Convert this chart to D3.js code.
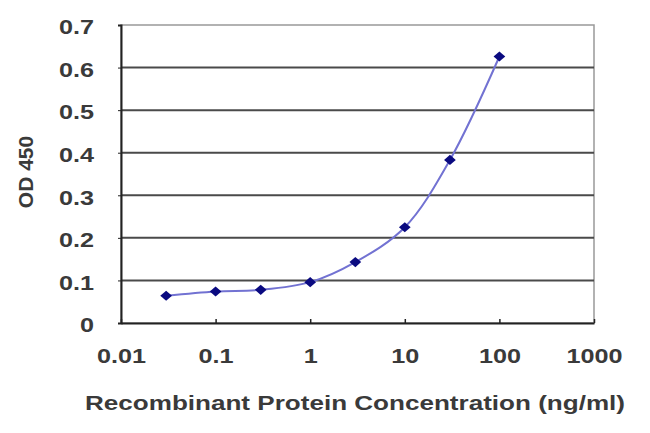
<!DOCTYPE html>
<html><head><meta charset="utf-8">
<script src="https://cdn.jsdelivr.net/npm/d3@7"></script>
<style>body{margin:0;background:#fff}svg{display:block}text{font-family:"Liberation Sans",Arial,sans-serif}</style>
</head><body>
<svg id="c" width="650" height="433"></svg>
<script>
const concentrations = [0.03, 0.1, 0.3, 1, 3, 10, 30, 100];
const odValues = [0.064, 0.074, 0.078, 0.096, 0.143, 0.225, 0.383, 0.626];
const xTicks = [0.01, 0.1, 1, 10, 100, 1000];
const yTicks = [0, 0.1, 0.2, 0.3, 0.4, 0.5, 0.6, 0.7];
const xTitle = "Recombinant Protein Concentration (ng/ml)";
const yTitle = "OD 450";

const svg = d3.select("#c");
const m = {l:121, t:25, r:594, b:323};
const sx = 1.2; // horizontal stretch of the source image
const x = d3.scaleLog().domain([0.01, 1000]).range([m.l, m.r]);
const y = d3.scaleLinear().domain([0, 0.7]).range([m.b, m.t]);

// plot border (top/right light gray)
svg.append("rect").attr("x", m.l).attr("y", m.t).attr("width", m.r-m.l).attr("height", m.b-m.t)
  .attr("fill","none").attr("stroke","#999").attr("stroke-width",1.5);

// gridlines
svg.append("g").selectAll("line").data(yTicks.filter(d=>d>0 && d<0.7)).join("line")
  .attr("x1", m.l).attr("x2", m.r).attr("y1", d=>y(d)).attr("y2", d=>y(d))
  .attr("stroke","#4a4a4a").attr("stroke-width",2);

// y axis
const ya = svg.append("g").attr("transform",`translate(${m.l},0)`)
  .call(d3.axisLeft(y).tickValues(yTicks).tickFormat(d=>d===0?"0":d3.format(".1f")(d)).tickSize(3).tickPadding(28));
ya.select(".domain").attr("stroke","#222").attr("stroke-width",2);
ya.selectAll("line").attr("stroke","#222");
ya.selectAll("text").attr("font-size",21).attr("fill","#3a3a3a").attr("font-weight","bold").attr("dy","0.42em")
  .attr("x",0).attr("transform",`translate(-27,0) scale(${sx},1)`);

// x axis
const xa = svg.append("g").attr("transform",`translate(0,${m.b})`)
  .call(d3.axisBottom(x).tickValues(xTicks).tickFormat(d=>String(d)).tickSizeInner(-4).tickSizeOuter(0).tickPadding(25));
xa.select(".domain").attr("stroke","#222").attr("stroke-width",2);
xa.selectAll("line").attr("stroke","#222").attr("stroke-width",1.5);
xa.selectAll("text").attr("font-size",21).attr("fill","#3a3a3a").attr("font-weight","bold")
  .attr("transform",`scale(${sx},1)`);

// line
const pts = concentrations.map((c,i)=>[c, odValues[i]]);
svg.append("path").datum(pts)
  .attr("d", d3.line().x(d=>x(d[0])).y(d=>y(d[1])).curve(d3.curveCatmullRom.alpha(0.5)))
  .attr("fill","none").attr("stroke","#7272d2").attr("stroke-width",2);

// markers
svg.append("g").selectAll("path").data(pts).join("path")
  .attr("d", d3.symbol().type(d3.symbolDiamond2).size(66))
  .attr("transform", d=>`translate(${x(d[0])},${y(d[1])}) scale(1.15,1)`)
  .attr("fill","#0a0a80");

// titles
svg.append("text").attr("x", 85).attr("y", 410)
  .attr("textLength", 540).attr("lengthAdjust","spacingAndGlyphs")
  .attr("font-size",21).attr("font-weight","bold").attr("fill","#3a3a3a").text(xTitle);
svg.append("text").attr("transform","translate(33,172) rotate(-90)").attr("text-anchor","middle")
  .attr("font-size",21).attr("font-weight","bold").attr("fill","#3a3a3a").text(yTitle);
</script>
</body></html>
